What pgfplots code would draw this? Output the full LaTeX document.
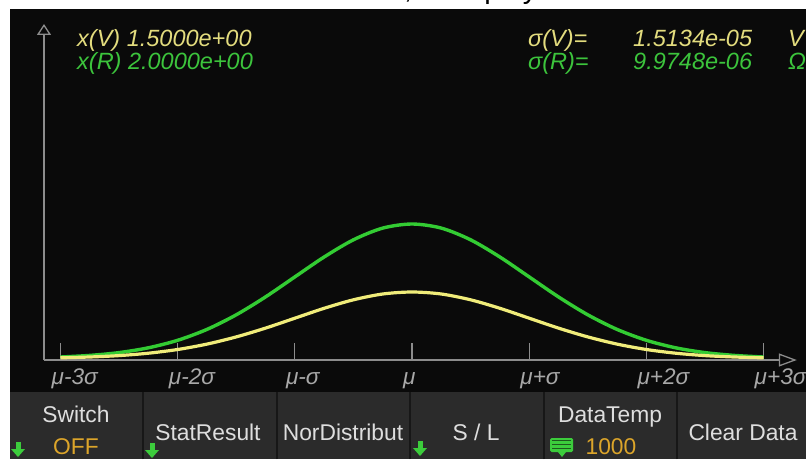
\documentclass[border=0pt]{standalone}
\usepackage{fontspec}
\setmainfont{Liberation Sans}
\usepackage{pgfplots}
\pgfplotsset{compat=1.18}
\usetikzlibrary{arrows.meta}

\definecolor{panel}{HTML}{0A0A0A}
\definecolor{barbg}{HTML}{2B2B2B}
\definecolor{divider}{HTML}{171717}
\definecolor{axisgray}{HTML}{8C8C8C}
\definecolor{tickgray}{HTML}{A8A8A8}
\definecolor{curvegreen}{HTML}{33CC33}
\definecolor{curveyellow}{HTML}{F0EC7A}
\definecolor{ytext}{HTML}{E3DC7E}
\definecolor{gtext}{HTML}{3CC43C}
\definecolor{btntext}{HTML}{DEDEDE}
\definecolor{golden}{HTML}{DCA52A}
\definecolor{icongreen}{HTML}{3CCC3C}

% pixel-sized fonts (1pt = 1px)
\newcommand\topfont{\fontsize{23.5}{27}\selectfont\itshape}
\newcommand\btnfont{\fontsize{22.8}{26}\selectfont}
\newcommand\downicon[2]{%
  \fill[icongreen] (#1-2.5,#2+8) rectangle (#1+2.5,#2);
  \fill[icongreen] (#1-7,#2+1) -- (#1+7,#2+1) -- (#1,#2-7) -- cycle;}

\begin{document}
\begin{tikzpicture}[x=1pt,y=1pt]
\useasboundingbox (0,0) rectangle (806,459);
\clip (0,0) rectangle (806,459);
\fill[white] (0,0) rectangle (806,459);

% cut-off caption line above the screen
\node[anchor=base west, inner sep=0pt, font=\fontsize{29}{30}\selectfont] at (404,460) {,};
\node[anchor=base west, inner sep=0pt, font=\fontsize{29}{30}\selectfont] at (447,460) {display};

% screen and button bar
\fill[panel] (10,67) rectangle (806,450);
\fill[barbg] (10,0) rectangle (806,67);
\foreach \x in {143,277,410,544,677}
  \draw[divider, line width=2pt] (\x,0) -- (\x,67);

% readouts
\node[anchor=base west, inner sep=0pt, font=\topfont, text=ytext] at (77,412) {x(V) 1.5000e+00};
\node[anchor=base west, inner sep=0pt, font=\topfont, text=gtext] at (77,389) {x(R) 2.0000e+00};
\node[anchor=base west, inner sep=0pt, font=\topfont, text=ytext] at (528,412) {σ(V)=};
\node[anchor=base west, inner sep=0pt, font=\topfont, text=gtext] at (528,389) {σ(R)=};
\node[anchor=base west, inner sep=0pt, font=\topfont, text=ytext] at (633,412) {1.5134e-05};
\node[anchor=base west, inner sep=0pt, font=\topfont, text=gtext] at (633,389) {9.9748e-06};
\node[anchor=base west, inner sep=0pt, font=\topfont, text=ytext] at (788,412) {V};
\node[anchor=base west, inner sep=0pt, font=\topfont, text=gtext] at (788,389) {Ω};

\begin{axis}[
    at={(44pt,99pt)}, anchor=south west,
    x=117.17pt, y=1pt,
    xmin=-3.1408, xmax=3.284, ymin=0, ymax=336,
    enlargelimits=false,
    axis lines=left,
    axis line style={draw=axisgray, line width=1.3pt},
    x axis line style={-{Triangle[open,length=18pt,width=13pt]}},
    y axis line style={-{Triangle[open,length=11pt,width=14pt]}},
    xtick={-3,-2,-1,0,1,2,3},
    xticklabels={\textit{μ-3σ},\textit{μ-2σ},\textit{μ-σ},\textit{μ},
                 \textit{μ+σ},\textit{μ+2σ},\textit{μ+3σ}},
    ytick=\empty,
    tick align=inside,
    major tick length=17pt,
    tick style={draw=axisgray, line width=1.3pt},
    xticklabel style={font=\fontsize{22.6}{26}\selectfont, text=tickgray,
        anchor=base west, inner sep=0pt, xshift=-9pt, yshift=-24pt},
    clip=false,
]
\addplot[curvegreen, line width=3.4pt, smooth] coordinates {
  (-3,3.0) (-2.75,4.6) (-2.5,7.4) (-2.25,12.2) (-2,19.7) (-1.75,30.6)
  (-1.5,45.2) (-1.25,63.1) (-1,83.1) (-0.75,103.0) (-0.5,120.2) (-0.25,131.9)
  (0,136.0)
  (0.25,131.9) (0.5,120.2) (0.75,103.0) (1,83.1) (1.25,63.1) (1.5,45.2)
  (1.75,30.6) (2,19.7) (2.25,12.2) (2.5,7.4) (2.75,4.6) (3,3.0) };
\addplot[curveyellow, line width=3.2pt, smooth] coordinates {
  (-3,2.2) (-2.75,3.0) (-2.5,4.4) (-2.25,6.8) (-2,10.5) (-1.75,15.9)
  (-1.5,23.1) (-1.25,31.9) (-1,41.8) (-0.75,51.7) (-0.5,60.2) (-0.25,66.0)
  (0,68.0)
  (0.25,66.0) (0.5,60.2) (0.75,51.7) (1,41.8) (1.25,31.9) (1.5,23.1)
  (1.75,15.9) (2,10.5) (2.25,6.8) (2.5,4.4) (2.75,3.0) (3,2.2) };
\end{axis}

% soft keys
\node[anchor=base, inner sep=0pt, font=\btnfont, text=btntext] at (76,37) {Switch};
\node[anchor=base, inner sep=0pt, font=\btnfont, text=golden] at (76,5) {OFF};
\node[anchor=base, inner sep=0pt, font=\btnfont, text=btntext] at (208,19) {StatResult};
\node[anchor=base, inner sep=0pt, font=\btnfont, text=btntext] at (343,19) {NorDistribut};
\node[anchor=base, inner sep=0pt, font=\btnfont, text=btntext] at (476,19) {S / L};
\node[anchor=base, inner sep=0pt, font=\btnfont, text=btntext] at (610,37) {DataTemp};
\node[anchor=base, inner sep=0pt, font=\btnfont, text=golden] at (611,5) {1000};
\node[anchor=base, inner sep=0pt, font=\btnfont, text=btntext] at (743,19) {Clear Data};

\downicon{18}{9}
\downicon{152}{8}
\downicon{420}{10}

% keyboard icon
\fill[icongreen, rounded corners=1.5pt] (550,7) rectangle (573,21);
\foreach \y in {11,15,19}
  \draw[panel!60!icongreen, line width=0.8pt] (552,\y) -- (571,\y);
\fill[icongreen] (558,7) -- (566,7) -- (562,2) -- cycle;
\end{tikzpicture}
\end{document}
